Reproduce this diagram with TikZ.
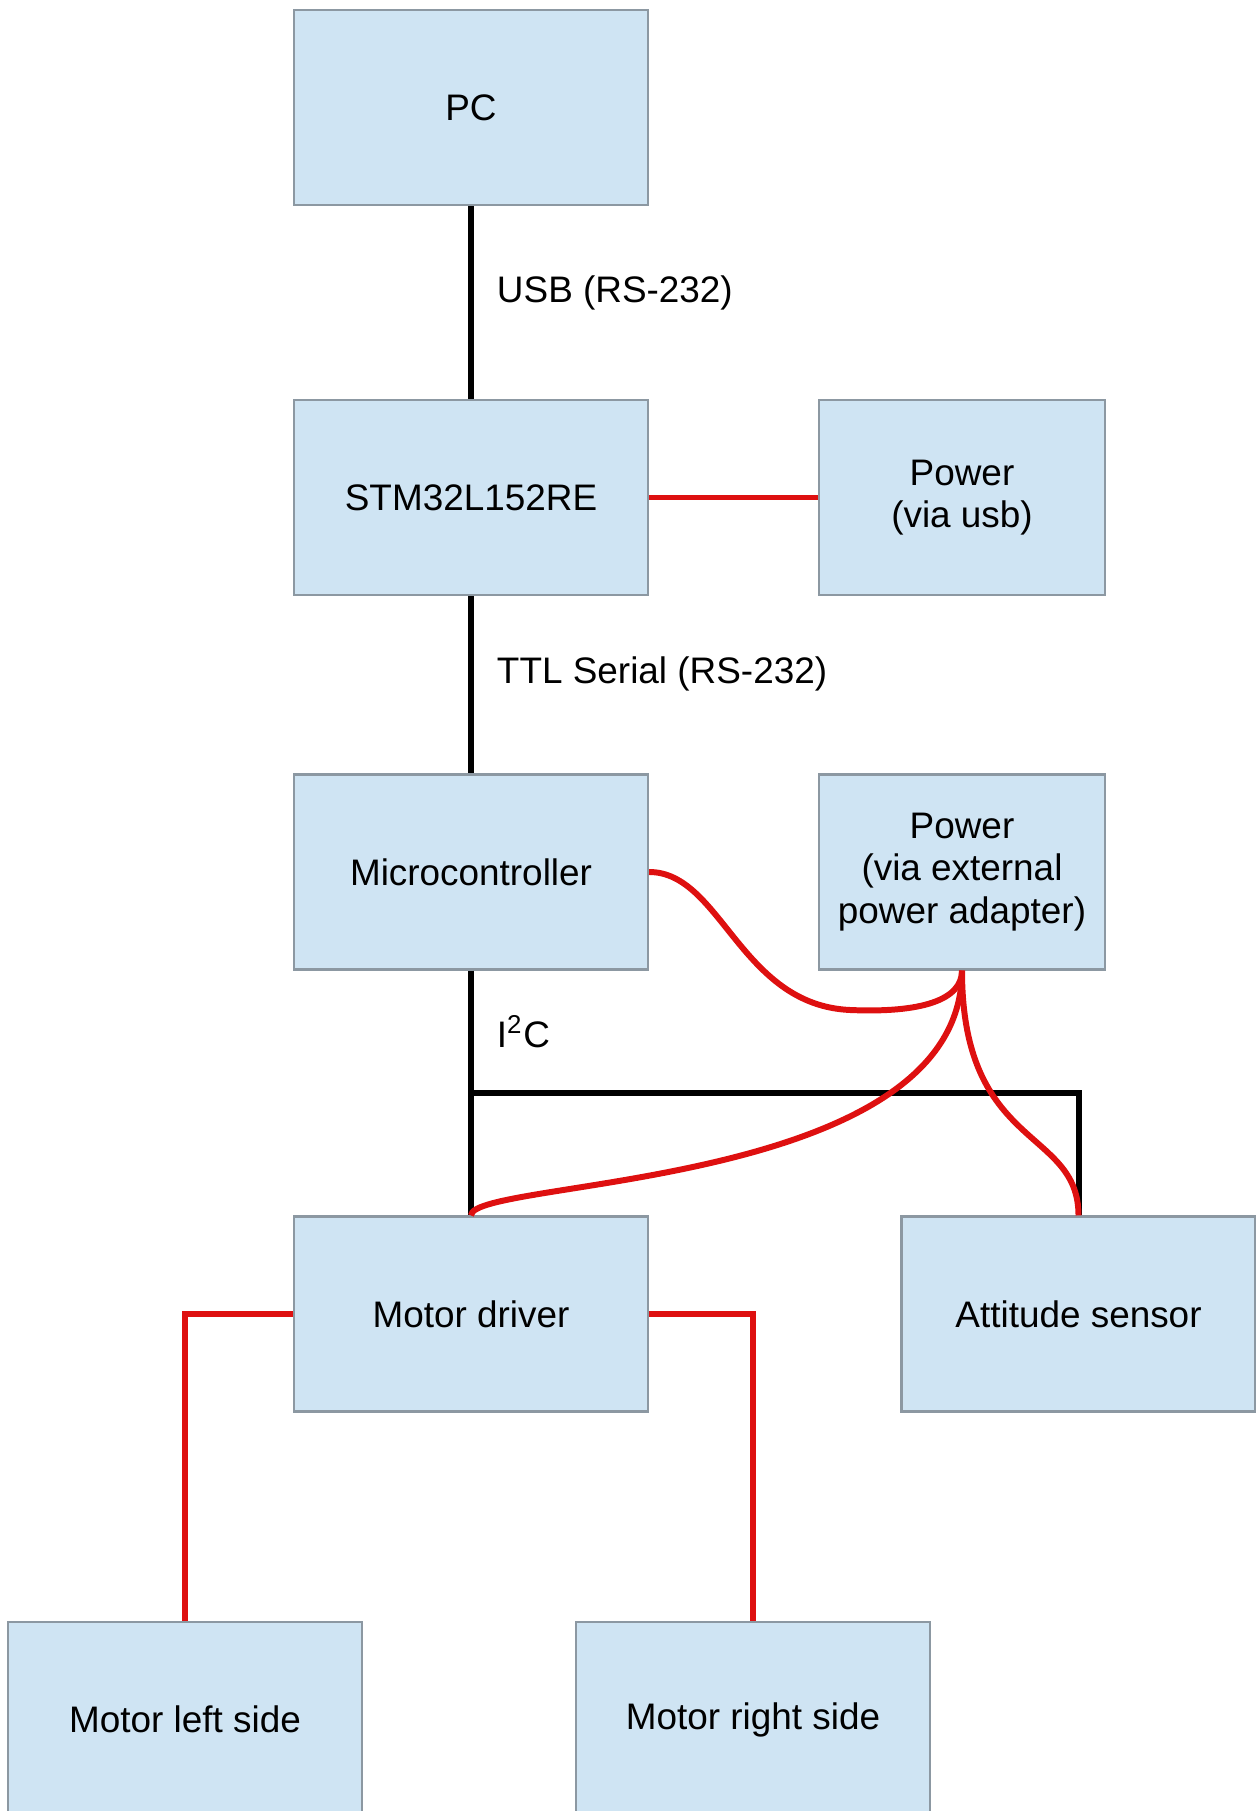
\documentclass[tikz,border=0pt]{standalone}
\usepackage{fontspec}
\setmainfont{Liberation Sans}
\usepackage{tikz}
\usetikzlibrary{positioning,calc}

\definecolor{boxfill}{RGB}{207,228,243}
\definecolor{boxline}{RGB}{140,152,162}
\definecolor{pwred}{RGB}{222,16,16}

\begin{document}
\begin{tikzpicture}[
    block/.style={draw=boxline, line width=0.6pt, fill=boxfill, minimum width=3.54cm, minimum height=1.95cm, align=center, font=\fontsize{10.5}{12}\selectfont, inner sep=0pt},
    pwrblock/.style={block, minimum width=2.86cm},
    sig/.style={line width=1.7pt, black},
    pwr/.style={line width=1.7pt, pwred},
    lbl/.style={font=\fontsize{10.5}{12}\selectfont, anchor=west, inner sep=0pt, xshift=0.23cm}
]
\useasboundingbox (0,0) rectangle (12.55,-18.11);

\node[block] (pc) at (4.71,-1.075) {PC};
\node[block] (stm) at (4.71,-4.975) {STM32L152RE};
\node[pwrblock] (pw1) at (9.62,-4.975) {Power\\(via usb)};
\node[block] (mc) at (4.71,-8.72) {Microcontroller};
\node[pwrblock] (pw2) at (9.62,-8.72) {Power\\(via external\\power adapter)};
\node[block] (drv) at (4.71,-13.14) {Motor driver};
\node[block] (att) at (10.785,-13.14) {Attitude sensor};
\node[block] (ml) at (1.85,-17.195) {Motor left side};
\node[block] (mr) at (7.53,-17.195) {Motor right side};

% data lines
\draw[sig] (pc) -- node[lbl, pos=0.45] {USB (RS-232)} (stm);
\draw[sig] (stm) -- node[lbl, pos=0.44] {TTL Serial (RS-232)} (mc);
\draw[sig] (mc) -- node[lbl, pos=0.25] {I\textsuperscript{2}C} (drv);
\coordinate (bus) at ($(mc.south)!0.5!(drv.north)$);
\draw[sig] (bus) -| (att.north);

% power lines
\coordinate (dip) at (8.50,-10.10);
\draw[pwr] (stm) -- (pw1);
\draw[pwr] (mc.east) .. controls +(0.72,0) and +(-1.1,0.05) .. (dip)
    .. controls +(0.7,-0.03) and +(0,-0.3) .. (pw2.south);
\draw[pwr] (pw2.south) .. controls +(0,-2.2) and +(0,0.37) .. (drv.north);
\draw[pwr] (pw2.south) .. controls +(0,-1.8) and +(0,0.88) .. (att.north);
\draw[pwr] (drv.west) -| (ml.north);
\draw[pwr] (drv.east) -| (mr.north);
\end{tikzpicture}
\end{document}
